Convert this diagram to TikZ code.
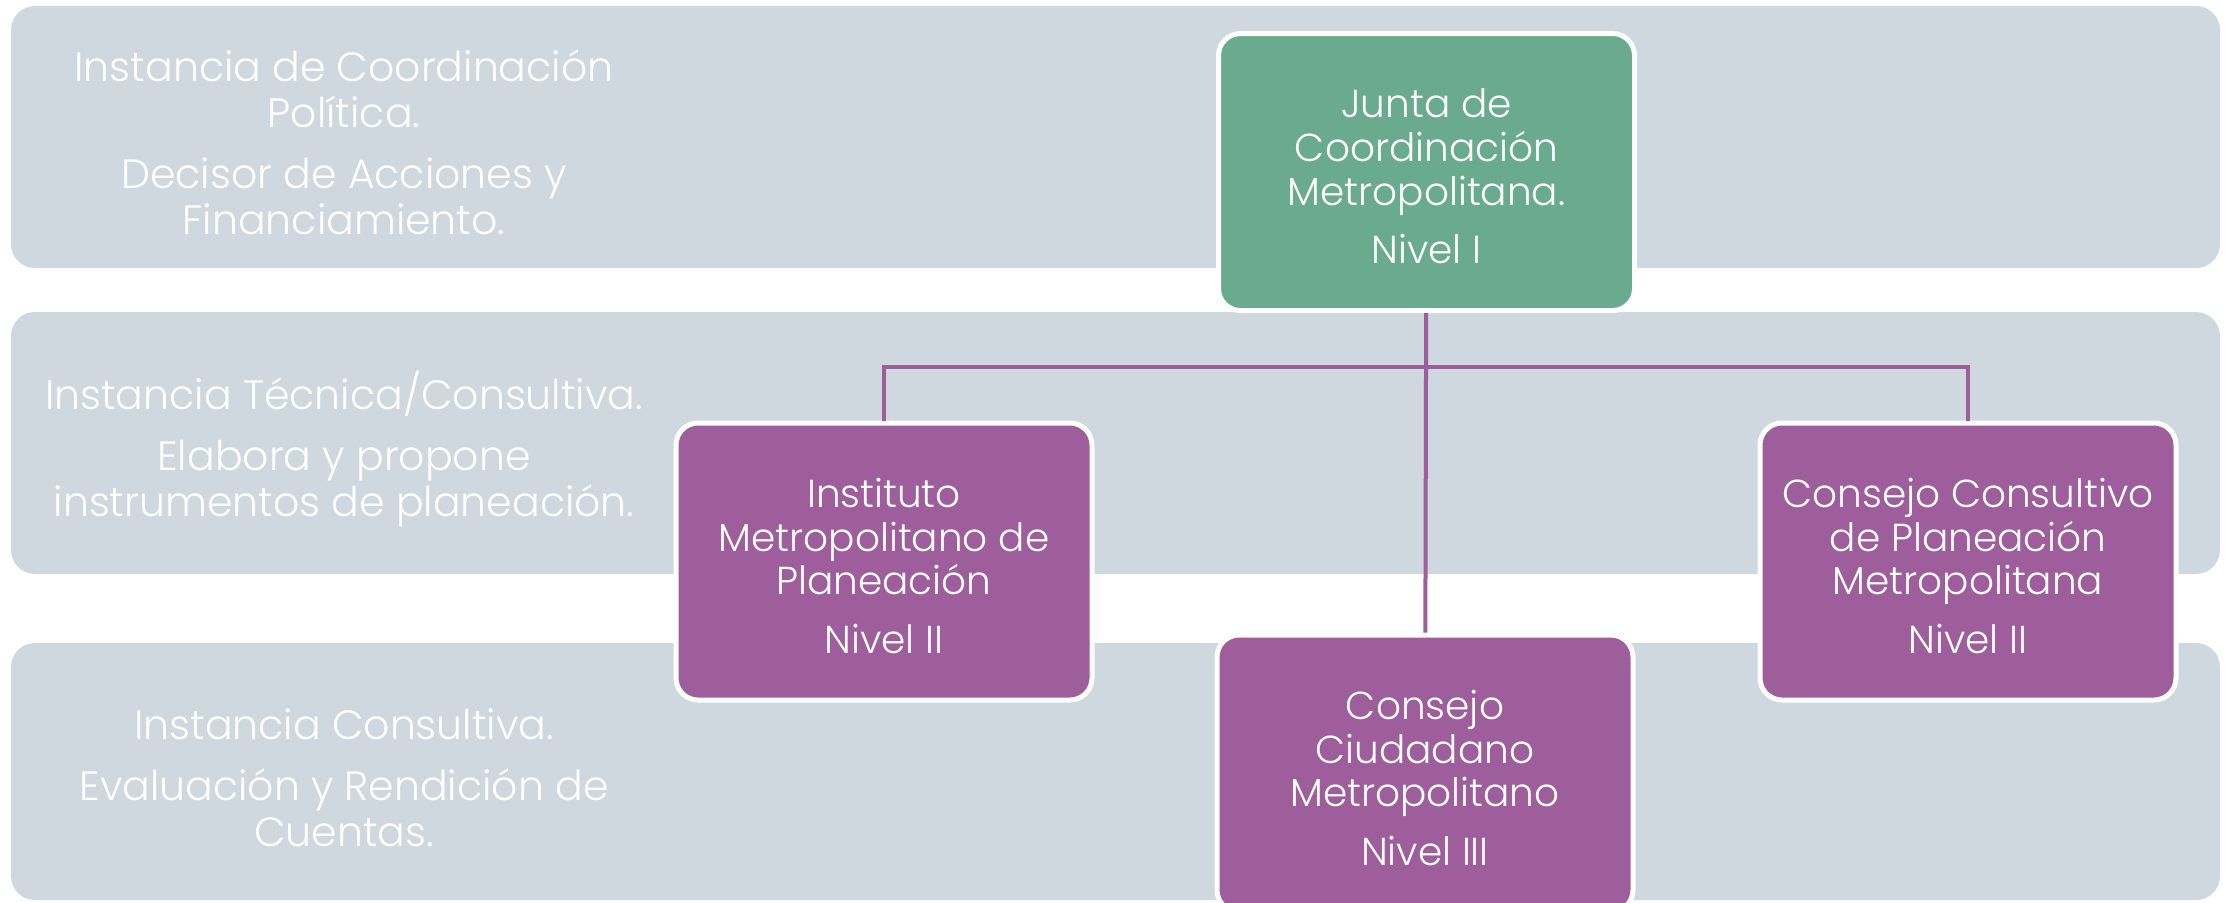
\documentclass[tikz,border=0pt]{standalone}
\usepackage{fontspec}
\setmainfont{Poppins}[UprightFont={* Light}]
\definecolor{bandc}{RGB}{207,216,222}
\definecolor{greenc}{RGB}{106,171,143}
\definecolor{purplec}{RGB}{158,94,155}
\begin{document}
\begin{tikzpicture}[x=0.5pt,y=-0.5pt,
  band/.style={fill=bandc, rounded corners=12pt},
  unit/.style={draw=white, line width=2.5pt, rounded corners=11pt, minimum width=208pt, minimum height=138.5pt, inner sep=0pt},
  unittext/.style={align=center, text=white, inner sep=0pt, font=\fontsize{19.5}{21.8}\selectfont},
  lbl/.style={align=center, text=white, inner sep=0pt, font=\fontsize{20.5}{23}\selectfont},
  conn/.style={draw=purplec, line width=2pt}]
\useasboundingbox (0,0) rectangle (2233,902);
\fill[band] (11,6) rectangle (2220,268);
\fill[band] (11,312) rectangle (2220,574);
\fill[band] (11,643) rectangle (2220,900);
\node[lbl] (l1) at (344,142) {Instancia de Coordinación\\Política.\\[7.5pt]Decisor de Acciones y\\Financiamiento.};
\node[lbl] (l2) at (344,449) {Instancia Técnica/Consultiva.\\[7.5pt]Elabora y propone\\instrumentos de planeación.};
\node[lbl] (l3) at (344,778) {Instancia Consultiva.\\[7.5pt]Evaluación y Rendición de\\Cuentas.};
\node[unit, fill=greenc] (junta) at (1426.5,172) {};
\node[unit, fill=purplec] (inst) at (884,561.5) {};
\node[unit, fill=purplec] (ccons) at (1968,561.5) {};
\node[unit, fill=purplec] (ciud) at (1425,773.5) {};
\node[unittext] (juntat) at ([yshift=-2.25pt]junta.center) {Junta de\\Coordinación\\Metropolitana.\\[7.5pt]Nivel I};
\node[unittext] (instt) at ([yshift=-2.25pt]inst.center) {Instituto\\Metropolitano de\\Planeación\\[7.5pt]Nivel II};
\node[unittext] (cconst) at ([yshift=-2.25pt]ccons.center) {Consejo Consultivo\\de Planeación\\Metropolitana\\[7.5pt]Nivel II};
\node[unittext] (ciudt) at ([yshift=-2.25pt]ciud.center) {Consejo\\Ciudadano\\Metropolitano\\[7.5pt]Nivel III};
\coordinate (bus) at (1426,367);
\draw[conn] (junta) -- (ciud);
\draw[conn] (inst.north) |- (bus) -| (ccons.north);
\end{tikzpicture}
\end{document}
